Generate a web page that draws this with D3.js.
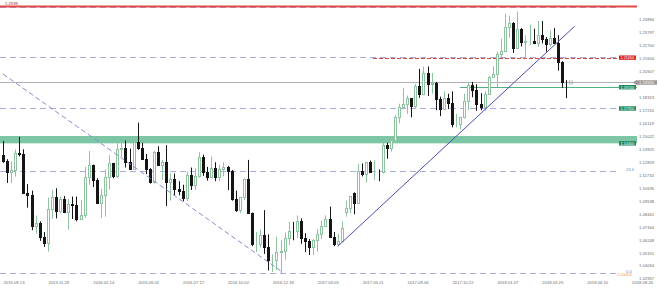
<!DOCTYPE html>
<html>
<head>
<meta charset="utf-8">
<script src="https://cdnjs.cloudflare.com/ajax/libs/d3/7.8.5/d3.min.js"></script>
<style>
body { margin: 0; background: #fff; }
svg { display: block; font-family: "Liberation Sans", Arial, sans-serif; }
</style>
</head>
<body>
<svg id="chart" width="660" height="288"></svg>
<script>
// weekly candles, first week starts 2015-09-13
var START_WEEK = "2015-09-13";

var open = [1.1338,1.1294,1.1198,1.1215,1.1358,1.1349,1.1016,1.1004,1.0741,1.0770,1.0646,1.0593,1.0883,1.0990,1.0868,1.0965,
  1.0860,1.0925,1.0915,1.0797,1.0830,1.1155,1.1255,1.1130,1.0935,1.1000,1.1155,1.1270,1.1165,1.1390,1.1400,1.1285,1.1225,1.1455,
  1.1400,1.1310,1.1225,1.1110,1.1365,1.1255,1.1280,1.1115,1.1140,1.1050,1.1040,1.0975,1.1175,1.1085,1.1160,1.1325,1.1195,1.1155,
  1.1235,1.1155,1.1225,1.1240,1.1205,1.0970,1.0880,1.0985,1.1140,1.0850,1.0585,1.0590,1.0665,1.0560,1.0450,1.0455,
  1.0520,1.0530,1.0640,1.0700,1.0695,1.0785,1.0640,1.0615,1.0560,1.0620,1.0670,1.0740,1.0800,1.0650,1.0590,1.0615,1.0860,1.0895,
  1.1020,1.0935,1.1205,1.1180,1.1280,1.1195,1.1200,1.1195,1.1425,1.1400,1.1470,1.1665,1.1750,1.1775,1.1820,1.1760,1.1925,1.1860,
  1.2035,1.1945,1.1950,1.1815,1.1730,1.1820,1.1785,1.1605,1.1605,1.1665,1.1795,1.1930,1.1895,1.1770,1.1750,1.1860,
  1.2005,1.2030,1.2200,1.2220,1.2425,1.2460,1.2250,1.2405,1.2295,1.2310,1.2310,1.2290,1.2355,1.2325,1.2280,1.2330,1.2290,1.2130,1.1962];
var high = [1.1460,1.1306,1.1287,1.1387,1.1495,1.1390,1.1095,1.1040,1.0830,1.0780,1.0690,1.0980,1.1045,1.1060,1.0990,1.0995,
  1.0970,1.0990,1.0990,1.0960,1.1240,1.1375,1.1260,1.1145,1.1055,1.1220,1.1340,1.1275,1.1440,1.1455,1.1465,1.1395,1.1460,1.1615,
  1.1445,1.1350,1.1230,1.1375,1.1415,1.1300,1.1425,1.1185,1.1185,1.1120,1.1090,1.1200,1.1235,1.1230,1.1365,1.1345,1.1240,1.1330,
  1.1280,1.1260,1.1280,1.1250,1.1215,1.1040,1.0985,1.1145,1.1300,1.0855,1.0690,1.0710,1.0875,1.0670,1.0500,1.0650,
  1.0620,1.0685,1.0775,1.0775,1.0830,1.0805,1.0680,1.0630,1.0630,1.0715,1.0785,1.0830,1.0905,1.0690,1.0675,1.0780,1.0955,1.0995,
  1.1025,1.1265,1.1270,1.1285,1.1295,1.1295,1.1220,1.1445,1.1445,1.1490,1.1680,1.1775,1.1910,1.1845,1.1820,1.1940,1.2070,1.2090,
  1.2090,1.2035,1.1960,1.1835,1.1880,1.1860,1.1880,1.1690,1.1665,1.1860,1.1960,1.1960,1.1940,1.1865,1.1880,1.2010,
  1.2090,1.2215,1.2325,1.2535,1.2520,1.2465,1.2555,1.2415,1.2355,1.2445,1.2410,1.2475,1.2475,1.2340,1.2395,1.2415,1.2355,1.2135,1.1975];
var low = [1.1275,1.1105,1.1105,1.1160,1.1330,1.1011,1.0896,1.0705,1.0675,1.0615,1.0565,1.0524,1.0800,1.0805,1.0850,1.0850,
  1.0710,1.0800,1.0780,1.0790,1.0810,1.1090,1.1070,1.0935,1.0810,1.0820,1.1050,1.1145,1.1145,1.1325,1.1235,1.1215,1.1215,1.1385,
  1.1310,1.1180,1.1100,1.1100,1.1280,1.1130,1.0910,1.0955,1.1000,1.1000,1.0950,1.0950,1.1045,1.1045,1.1150,1.1165,1.1125,1.1150,
  1.1120,1.1120,1.1160,1.1045,1.0955,1.0860,1.0850,1.0960,1.0850,1.0570,1.0520,1.0560,1.0505,1.0365,1.0352,1.0370,
  1.0340,1.0455,1.0580,1.0620,1.0640,1.0590,1.0520,1.0495,1.0495,1.0525,1.0630,1.0735,1.0650,1.0570,1.0569,1.0605,1.0820,1.0850,
  1.0840,1.0925,1.1160,1.1110,1.1195,1.1130,1.1120,1.1185,1.1310,1.1370,1.1440,1.1610,1.1730,1.1690,1.1660,1.1740,1.1825,1.1850,
  1.1840,1.1860,1.1720,1.1670,1.1730,1.1730,1.1575,1.1575,1.1555,1.1650,1.1720,1.1830,1.1715,1.1720,1.1715,1.1850,
  1.1995,1.1915,1.2165,1.2215,1.2335,1.2205,1.2250,1.2260,1.2155,1.2270,1.2285,1.2255,1.2285,1.2215,1.2260,1.2285,1.2055,1.1910,1.1822];
var close = [1.1294,1.1198,1.1215,1.1358,1.1349,1.1016,1.1004,1.0741,1.0770,1.0646,1.0593,1.0883,1.0990,1.0868,1.0965,1.0860,
  1.0925,1.0915,1.0797,1.0830,1.1155,1.1255,1.1130,1.0935,1.1000,1.1155,1.1270,1.1165,1.1390,1.1400,1.1285,1.1225,1.1455,1.1400,
  1.1310,1.1225,1.1110,1.1365,1.1255,1.1280,1.1115,1.1140,1.1050,1.1040,1.0975,1.1175,1.1085,1.1160,1.1325,1.1195,1.1155,1.1235,
  1.1155,1.1225,1.1240,1.1205,1.0970,1.0880,1.0985,1.1140,1.0850,1.0585,1.0590,1.0665,1.0560,1.0450,1.0455,1.0520,
  1.0530,1.0640,1.0700,1.0695,1.0785,1.0640,1.0615,1.0560,1.0620,1.0670,1.0740,1.0800,1.0650,1.0590,1.0615,1.0725,1.0895,1.0995,
  1.0935,1.1205,1.1180,1.1280,1.1195,1.1200,1.1195,1.1425,1.1400,1.1470,1.1665,1.1750,1.1775,1.1820,1.1760,1.1925,1.1860,1.2035,
  1.1945,1.1950,1.1815,1.1730,1.1820,1.1785,1.1605,1.1605,1.1665,1.1795,1.1930,1.1895,1.1770,1.1750,1.1860,1.2005,
  1.2030,1.2200,1.2220,1.2425,1.2460,1.2250,1.2405,1.2295,1.2310,1.2310,1.2290,1.2355,1.2325,1.2280,1.2330,1.2290,1.2130,1.1960,1.1955];

var dateTicks = ["2015-09-13","2015-11-29","2016-02-14","2016-05-01","2016-07-17","2016-10-02","2016-12-18",
  "2017-03-05","2017-05-21","2017-08-06","2017-10-22","2018-01-07","2018-03-25","2018-06-10","2018-08-26"];
var priceTicks = [1.24894,1.23797,1.22700,1.21604,1.20507,1.19410,1.18313,1.17216,1.16119,1.15022,1.13925,
  1.12829,1.11732,1.10635,1.09538,1.08441,1.07344,1.06248,1.05151,1.04054,1.02957];

// fibonacci from the 2017 low to the 2014 high
var fibLow = 1.0340, fibHigh = 1.3993;
var fibLevels = [0, 23.6, 38.2, 50, 61.8];
var fibNames = ["0.0", "23.6", "", "", ""];

var bandRange = [1.1440, 1.1502];
var redTop = 1.2598;
var redDash = 1.2165;
var greenLine = 1.1915;
var greenMid = 1.1735;

var trendDown = [["2015-09-13", 1.2027], ["2017-01-01", 1.0362]];
var trendUp = [["2017-04-09", 1.0569], ["2018-05-20", 1.2429]];

var PLOT_RIGHT = 637;
var FONT = 4.2;

var svg = d3.select("#chart");
var parse = d3.utcParse("%Y-%m-%d");
var start = parse(START_WEEK);
var weeks = open.map(function(d, i) { return d3.utcWeek.offset(start, i); });
var last = close[close.length - 1];

var x = d3.scaleUtc()
    .domain([start, parse("2018-08-26")])
    .range([3, 631.6]);
var y = d3.scaleLinear()
    .domain([1.02957, 1.24894])
    .range([278.6, 19.3]);
var fmt = d3.format(".5f");

function py(p) { return Math.round(y(p)) + 0.5; }

svg.append("rect").attr("width", 660).attr("height", 288).attr("fill", "#fff");
svg.append("defs").append("clipPath").attr("id", "plot")
    .append("rect").attr("x", 0).attr("y", 0).attr("width", PLOT_RIGHT).attr("height", 288);

var plot = svg.append("g").attr("clip-path", "url(#plot)");

// support band
plot.append("rect")
    .attr("x", 0)
    .attr("width", PLOT_RIGHT)
    .attr("y", y(bandRange[1]))
    .attr("height", y(bandRange[0]) - y(bandRange[1]))
    .attr("fill", "#7cc6a5");

// fib levels
fibLevels.forEach(function(lv, i) {
    var p = fibLow + (fibHigh - fibLow) * lv / 100;
    plot.append("line")
        .attr("x1", 0).attr("x2", 616)
        .attr("y1", py(p)).attr("y2", py(p))
        .attr("stroke", "#aaaddb")
        .attr("stroke-dasharray", "6,4");
    if (fibNames[i]) {
        svg.append("text")
            .attr("x", 626).attr("y", py(p) - 1)
            .attr("font-size", FONT)
            .attr("fill", "#8080c8")
            .text(fibNames[i]);
    }
});
svg.append("text")
    .attr("x", 617).attr("y", py(fibLow) + 2.5)
    .attr("font-size", FONT)
    .attr("fill", "#f0a040")
    .text(fmt(fibLow));

// horizontal lines
plot.append("line")
    .attr("x1", 0).attr("x2", PLOT_RIGHT)
    .attr("y1", py(last)).attr("y2", py(last))
    .attr("stroke", "#b0b0b0");
plot.append("line")
    .attr("x1", 460).attr("x2", PLOT_RIGHT)
    .attr("y1", py(greenLine)).attr("y2", py(greenLine))
    .attr("stroke", "#4fb384");
plot.append("line")
    .attr("x1", 373).attr("x2", PLOT_RIGHT)
    .attr("y1", py(redDash)).attr("y2", py(redDash))
    .attr("stroke", "#d04848")
    .attr("stroke-dasharray", "4,2");
plot.append("line")
    .attr("x1", 0).attr("x2", PLOT_RIGHT)
    .attr("y1", y(redTop)).attr("y2", y(redTop))
    .attr("stroke", "#e24848")
    .attr("stroke-width", 2);
svg.append("text")
    .attr("x", 5).attr("y", y(redTop) - 1)
    .attr("font-size", FONT)
    .attr("fill", "#b02020")
    .text(redTop.toFixed(4));

// candles
var candles = plot.append("g").selectAll("g")
    .data(weeks)
    .enter().append("g");

candles.each(function(d, i) {
    var g = d3.select(this);
    var cx = Math.round(x(d));
    var up = close[i] >= open[i];
    var col = up ? "#8fc39f" : "#151515";
    g.append("line")
        .attr("x1", cx + 0.5).attr("x2", cx + 0.5)
        .attr("y1", y(high[i])).attr("y2", y(low[i]))
        .attr("stroke", col);
    var top = Math.round(y(Math.max(open[i], close[i])));
    var bot = Math.round(y(Math.min(open[i], close[i])));
    g.append("rect")
        .attr("x", cx - 0.5)
        .attr("y", top + 0.5)
        .attr("width", 2)
        .attr("height", Math.max(0, bot - top))
        .attr("fill", up ? "#fff" : "#151515")
        .attr("stroke", col);
});

// last bar marker
var lastX = Math.round(x(weeks[weeks.length - 1]));
plot.append("rect")
    .attr("x", lastX + 3.5).attr("y", py(last) - 1.5)
    .attr("width", 3).attr("height", 3)
    .attr("fill", "none")
    .attr("stroke", "#999")
    .attr("stroke-width", 0.6);

// trend lines
plot.append("line")
    .attr("x1", x(parse(trendDown[0][0]))).attr("y1", y(trendDown[0][1]))
    .attr("x2", x(parse(trendDown[1][0]))).attr("y2", y(trendDown[1][1]))
    .attr("stroke", "#8a8ad2")
    .attr("stroke-dasharray", "5,3");
plot.append("line")
    .attr("x1", x(parse(trendUp[0][0]))).attr("y1", y(trendUp[0][1]))
    .attr("x2", x(parse(trendUp[1][0]))).attr("y2", y(trendUp[1][1]))
    .attr("stroke", "#4b4bb5");

// price axis, the tick under the current price tag is hidden like in the terminal
var yAxis = d3.axisRight(y)
    .tickValues(priceTicks.filter(function(p) { return Math.abs(y(p) - y(last)) > 4; }))
    .tickFormat(fmt)
    .tickSize(0)
    .tickPadding(3);
var gy = svg.append("g")
    .attr("transform", "translate(636,0)")
    .call(yAxis);
gy.select(".domain").remove();
gy.selectAll("text")
    .attr("font-size", FONT)
    .attr("font-family", "Liberation Sans, Arial, sans-serif")
    .attr("fill", "#6b6b6b");

// date axis
var xAxis = d3.axisBottom(x)
    .tickValues(dateTicks.map(parse))
    .tickFormat(d3.utcFormat("%Y.%m.%d"))
    .tickSize(0)
    .tickPadding(3);
var gx = svg.append("g")
    .attr("transform", "translate(0,278)")
    .call(xAxis);
gx.select(".domain").remove();
gx.selectAll("text")
    .attr("text-anchor", "start")
    .attr("font-size", FONT)
    .attr("font-family", "Liberation Sans, Arial, sans-serif")
    .attr("fill", "#6b6b6b");

// level tags
function tag(p, color) {
    var cy = y(p);
    svg.append("rect")
        .attr("x", 619).attr("y", cy - 2.2)
        .attr("width", 17).attr("height", 4.4)
        .attr("fill", color);
    svg.append("text")
        .attr("x", 620.5).attr("y", cy + 1.4)
        .attr("font-size", 3.8)
        .attr("fill", "#fff")
        .text(fmt(p));
}
tag(redDash, "#d8251f");
tag(greenLine, "#1f8a5a");
tag(greenMid, "#1f8a5a");
tag(bandRange[0], "#1f8a5a");

// current price tag
var cy = y(last);
svg.append("path")
    .attr("d", "M633," + cy + "L636," + (cy - 2.3) + "L657," + (cy - 2.3) + "L657," + (cy + 2.3) + "L636," + (cy + 2.3) + "Z")
    .attr("fill", "#999");
svg.append("text")
    .attr("x", 639).attr("y", cy + 1.5)
    .attr("font-size", FONT)
    .attr("fill", "#fff")
    .text(fmt(last));
</script>
</body>
</html>
